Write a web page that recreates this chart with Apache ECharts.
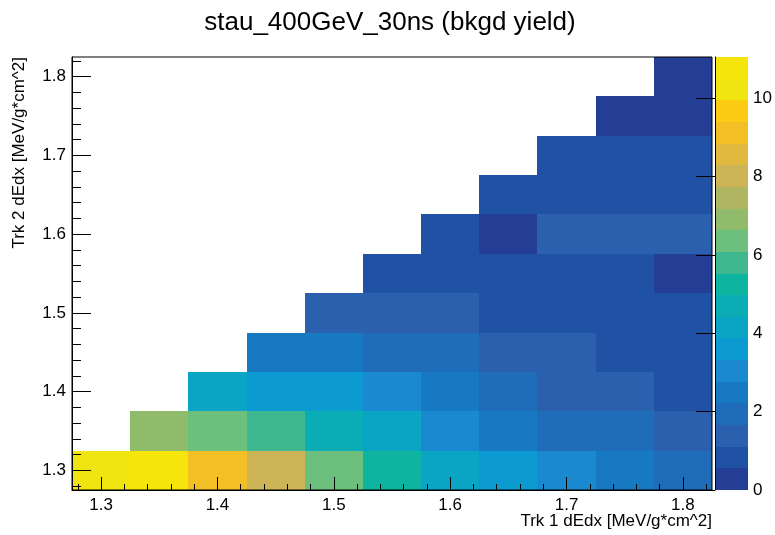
<!DOCTYPE html>
<html>
<head>
<meta charset="utf-8">
<script src="https://cdn.jsdelivr.net/npm/echarts@6/dist/echarts.min.js"></script>
<style>
  html, body { margin: 0; padding: 0; background: #fff; }
  #chart { width: 775px; height: 535px; }
</style>
</head>
<body>
<div id="chart"></div>
<script>
// Bin centres of the two dE/dx axes (MeV/g*cm^2); every bin is 0.05 wide
const trk1Bins = [1.30, 1.35, 1.40, 1.45, 1.50, 1.55, 1.60, 1.65, 1.70, 1.75, 1.80];
const trk2Bins = [1.30, 1.35, 1.40, 1.45, 1.50, 1.55, 1.60, 1.65, 1.70, 1.75, 1.80];
const binWidth = 0.05;

// Background yield per Trk 2 bin (bottom row first), columns follow trk1Bins
const yield130 = [10.3, 11.05, 9.1, 8.0, 6.3, 5.2, 4.1, 3.6, 3.0, 2.5, 1.9];
const yield135 = [null, 6.9, 6.3, 5.8, 4.7, 4.1, 3.0, 2.5, 1.9, 1.9, 1.4];
const yield140 = [null, null, 4.1, 3.6, 3.6, 3.0, 2.5, 1.9, 1.4, 1.4, 0.8];
const yield145 = [null, null, null, 2.5, 2.5, 1.9, 1.9, 1.4, 1.4, 0.8, 0.8];
const yield150 = [null, null, null, null, 1.4, 1.4, 1.4, 0.8, 0.8, 0.8, 0.8];
const yield155 = [null, null, null, null, null, 0.8, 0.8, 0.8, 0.8, 0.8, 0.3];
const yield160 = [null, null, null, null, null, null, 0.8, 0.3, 1.4, 1.4, 1.4];
const yield165 = [null, null, null, null, null, null, null, 0.8, 0.8, 0.8, 0.8];
const yield170 = [null, null, null, null, null, null, null, null, 0.8, 0.8, 0.8];
const yield175 = [null, null, null, null, null, null, null, null, null, 0.3, 0.3];
const yield180 = [null, null, null, null, null, null, null, null, null, null, 0.3];
const yieldRows = [yield130, yield135, yield140, yield145, yield150, yield155,
                   yield160, yield165, yield170, yield175, yield180];

// Tick labels
const dedxTicks = [1.3, 1.4, 1.5, 1.6, 1.7, 1.8];
const zTicks = [0, 2, 4, 6, 8, 10];

// 20 contour levels, bird-style palette from low to high
const contourColors = [
  '#243d95', '#1f52a5', '#2a60ae', '#1f6cb9', '#1879c3',
  '#1a89d0', '#0b9bd0', '#0aa5c5', '#0aacb5', '#0db5a0',
  '#3fb890', '#6cbf7c', '#8fbb6b', '#b0b562', '#cdb557',
  '#e0b93e', '#f2bf24', '#fccb14', '#f0e511', '#f5e50b'
];

const FONT = '"Liberation Sans", Arial, Helvetica, sans-serif';

const cells = [];
yieldRows.forEach((row, j) => {
  row.forEach((v, i) => {
    if (v !== null) cells.push([trk1Bins[i], trk2Bins[j], v]);
  });
});

const zMax = Math.max(...cells.map(c => c[2]));
const nContours = contourColors.length;
const zStep = zMax / nContours;
const pieces = contourColors.map((c, k) => (
  k === nContours - 1
    ? { gte: k * zStep, lte: zMax + 1e-9, color: c }
    : { gte: k * zStep, lt: (k + 1) * zStep, color: c }
));
const colorbarLevels = contourColors.map((c, k) => [0.5, k * zStep, (k + 1) * zStep, k]);

const xMin = trk1Bins[0] - binWidth / 2;
const xMax = trk1Bins[trk1Bins.length - 1] + binWidth / 2;
const yMin = trk2Bins[0] - binWidth / 2;
const yMax = trk2Bins[trk2Bins.length - 1] + binWidth / 2;

const labelStyle = { color: '#000', fontSize: 17, fontFamily: FONT };
const blackLine = { color: '#000', width: 1 };

const chart = echarts.init(document.getElementById('chart'), null, { renderer: 'canvas' });

chart.setOption({
  animation: false,
  backgroundColor: '#fff',
  grid: [
    { left: 72, top: 57, width: 640, height: 433, show: true,
      borderColor: '#000', borderWidth: 1, backgroundColor: 'transparent', z: 10 },
    { left: 715, top: 57, width: 37, height: 433, show: false }
  ],
  visualMap: {
    type: 'piecewise', show: false, seriesIndex: 0, dimension: 2, pieces: pieces
  },
  xAxis: [
    {
      type: 'value', gridIndex: 0, min: xMin, max: xMax, z: 10,
      axisLine: { show: true, onZero: false, lineStyle: blackLine },
      axisTick: { show: true, inside: true, length: 13, lineStyle: blackLine, customValues: dedxTicks },
      minorTick: { show: true, splitNumber: 5, length: 6, lineStyle: blackLine },
      axisLabel: Object.assign({ margin: 7, customValues: dedxTicks,
        formatter: v => v.toFixed(1) }, labelStyle),
      splitLine: { show: false }
    },
    { type: 'value', gridIndex: 1, min: 0, max: 1, show: false }
  ],
  yAxis: [
    {
      type: 'value', gridIndex: 0, min: yMin, max: yMax, z: 10,
      axisLine: { show: true, onZero: false, lineStyle: blackLine },
      axisTick: { show: true, inside: true, length: 19, lineStyle: blackLine, customValues: dedxTicks },
      minorTick: { show: true, splitNumber: 5, length: 9, lineStyle: blackLine },
      axisLabel: Object.assign({ margin: 6, customValues: dedxTicks,
        formatter: v => v.toFixed(1) }, labelStyle),
      splitLine: { show: false }
    },
    {
      type: 'value', gridIndex: 1, position: 'right', min: 0, max: zMax, z: 10,
      axisLine: { show: true, lineStyle: blackLine },
      axisTick: { show: true, inside: true, length: 19, lineStyle: blackLine, customValues: zTicks },
      axisLabel: Object.assign({ margin: 5, customValues: zTicks }, labelStyle),
      splitLine: { show: false }
    }
  ],
  series: [
    {
      type: 'custom',
      name: 'bkgd yield',
      xAxisIndex: 0, yAxisIndex: 0,
      data: cells,
      encode: { x: 0, y: 1 },
      renderItem: (params, api) => {
        const x = api.value(0), y = api.value(1);
        const a = api.coord([x - binWidth / 2, y + binWidth / 2]);
        const b = api.coord([x + binWidth / 2, y - binWidth / 2]);
        const x0 = Math.round(a[0]), y0 = Math.round(a[1]);
        const x1 = Math.round(b[0]), y1 = Math.round(b[1]);
        return {
          type: 'rect',
          shape: { x: x0, y: y0, width: x1 - x0, height: y1 - y0 },
          style: { fill: api.visual('color') }
        };
      }
    },
    {
      type: 'custom',
      name: 'palette',
      xAxisIndex: 1, yAxisIndex: 1,
      data: colorbarLevels,
      encode: { x: 0, y: 1 },
      renderItem: (params, api) => {
        const a = api.coord([0, api.value(2)]);
        const b = api.coord([1, api.value(1)]);
        const x0 = Math.round(a[0]), y0 = Math.round(a[1]);
        const x1 = Math.round(b[0]), y1 = Math.round(b[1]);
        return {
          type: 'rect',
          shape: { x: x0, y: y0, width: x1 - x0, height: y1 - y0 },
          style: { fill: contourColors[api.value(3)] }
        };
      }
    }
  ],
  graphic: [
    { type: 'text', x: 390, y: 23,
      style: { text: 'stau_400GeV_30ns (bkgd yield)', font: '26px ' + FONT,
               fill: '#000', align: 'center', verticalAlign: 'middle' } },
    { type: 'text', x: 712, y: 521,
      style: { text: 'Trk 1 dEdx [MeV/g*cm^2]', font: '17px ' + FONT,
               fill: '#000', align: 'right', verticalAlign: 'middle' } },
    { type: 'text', x: 19, y: 57, rotation: Math.PI / 2,
      style: { text: 'Trk 2 dEdx [MeV/g*cm^2]', font: '17px ' + FONT,
               fill: '#000', align: 'right', verticalAlign: 'middle' } }
  ]
});
</script>
</body>
</html>
